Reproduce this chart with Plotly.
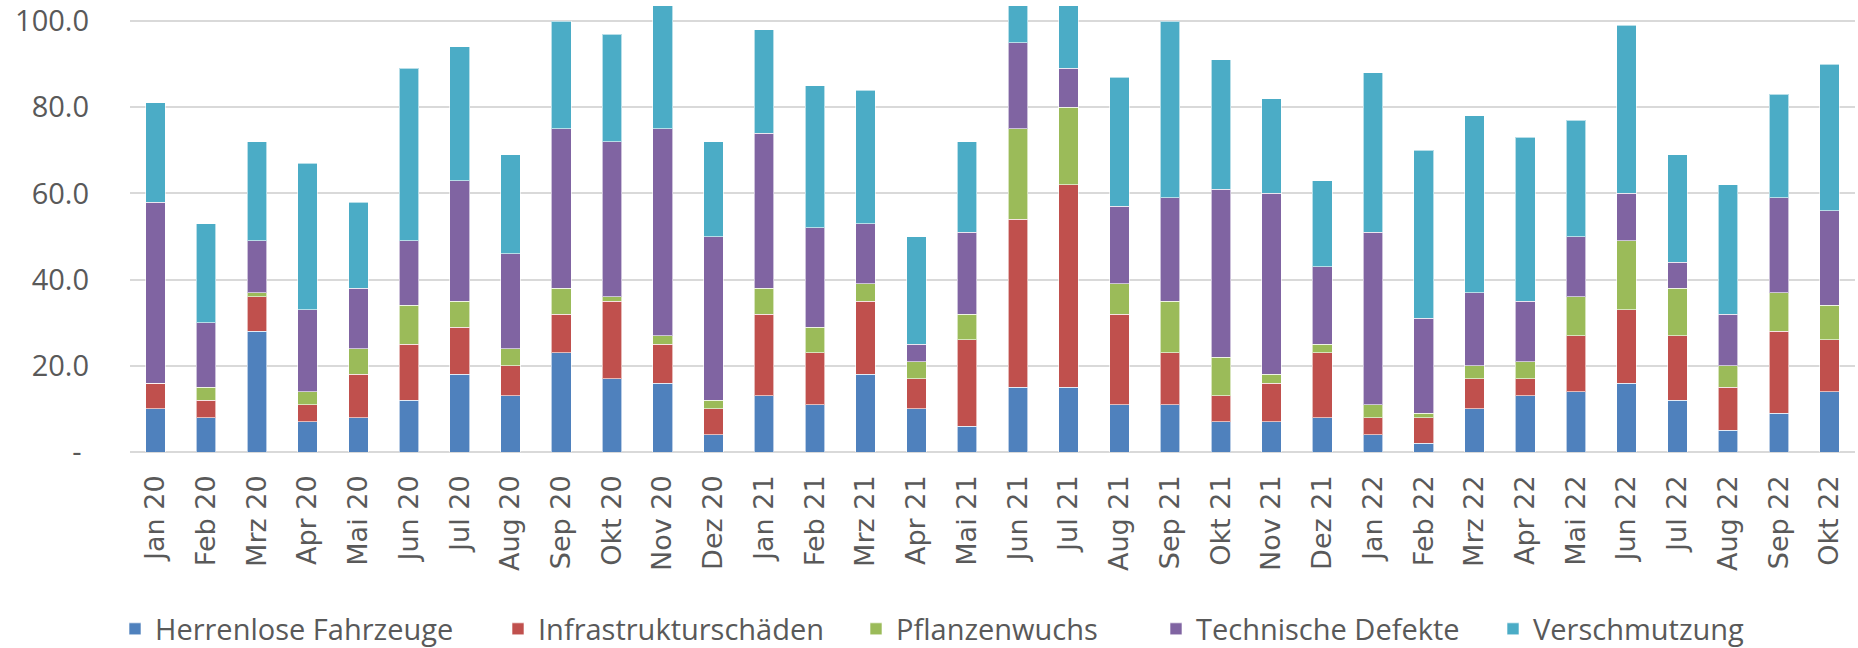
import plotly.graph_objects as go

months = ["Jan 20", "Feb 20", "Mrz 20", "Apr 20", "Mai 20", "Jun 20", "Jul 20", "Aug 20",
          "Sep 20", "Okt 20", "Nov 20", "Dez 20",
          "Jan 21", "Feb 21", "Mrz 21", "Apr 21", "Mai 21", "Jun 21", "Jul 21", "Aug 21",
          "Sep 21", "Okt 21", "Nov 21", "Dez 21",
          "Jan 22", "Feb 22", "Mrz 22", "Apr 22", "Mai 22", "Jun 22", "Jul 22", "Aug 22",
          "Sep 22", "Okt 22"]

herrenlose = [10, 8, 28, 7, 8, 12, 18, 13, 23, 17, 16, 4,
              13, 11, 18, 10, 6, 15, 15, 11, 11, 7, 7, 8,
              4, 2, 10, 13, 14, 16, 12, 5, 9, 14]
infrastruktur = [6, 4, 8, 4, 10, 13, 11, 7, 9, 18, 9, 6,
                 19, 12, 17, 7, 20, 39, 47, 21, 12, 6, 9, 15,
                 4, 6, 7, 4, 13, 17, 15, 10, 19, 12]
pflanzen = [0, 3, 1, 3, 6, 9, 6, 4, 6, 1, 2, 2,
            6, 6, 4, 4, 6, 21, 18, 7, 12, 9, 2, 2,
            3, 1, 3, 4, 9, 16, 11, 5, 9, 8]
technisch = [42, 15, 12, 19, 14, 15, 28, 22, 37, 36, 48, 38,
             36, 23, 14, 4, 19, 20, 9, 18, 24, 39, 42, 18,
             40, 22, 17, 14, 14, 11, 6, 12, 22, 22]
verschmutzung = [23, 23, 23, 34, 20, 40, 31, 23, 25, 25, 29, 22,
                 24, 33, 31, 25, 21, 9, 15, 30, 41, 30, 22, 20,
                 37, 39, 41, 38, 27, 39, 25, 30, 24, 34]

series_names = ["Herrenlose Fahrzeuge", "Infrastrukturschäden", "Pflanzenwuchs",
                "Technische Defekte", "Verschmutzung"]
series_values = [herrenlose, infrastruktur, pflanzen, technisch, verschmutzung]
colors = ["#4F81BD", "#C0504D", "#9BBB59", "#8064A2", "#4BACC6"]

y_tickvals = [0, 20, 40, 60, 80, 100]
y_ticktext = ["-\u00a0", "20.0", "40.0", "60.0", "80.0", "100.0"]

W, H = 1858, 648
legend_px = [115, 498, 856, 1156, 1493]
legend_keys = ["legend", "legend2", "legend3", "legend4", "legend5"]

fig = go.Figure()
for name, vals, col, lk in zip(series_names, series_values, colors, legend_keys):
    fig.add_trace(go.Bar(
        x=months, y=vals, name=name,
        marker=dict(color=col, line=dict(width=1, color="rgba(255,255,255,0.6)")),
        legend=lk,
    ))

legend_font = dict(family="Open Sans, sans-serif", size=29, color="#595959")
layout_legends = {}
for lk, px in zip(legend_keys, legend_px):
    layout_legends[lk] = dict(
        orientation="h", xref="container", yref="container",
        x=px / W, xanchor="left", y=1 - 629 / H, yanchor="middle",
        font=legend_font, bgcolor="rgba(0,0,0,0)", borderwidth=0,
    )

fig.update_layout(
    template="none",
    width=W, height=H,
    barmode="stack", bargap=0.614,
    plot_bgcolor="white", paper_bgcolor="white",
    margin=dict(l=130, r=3, t=6, b=196, autoexpand=False),
    showlegend=True,
    **layout_legends,
)

fig.update_xaxes(
    type="category", tickangle=-90, automargin=False,
    tickfont=dict(family="DejaVu Sans, sans-serif", size=27, color="#595959"),
    showgrid=False, showline=False, ticks="", zeroline=False,
    ticklabelstandoff=17,
)
fig.update_yaxes(
    range=[0, 103.5], tickvals=y_tickvals, ticktext=y_ticktext, automargin=False,
    tickfont=dict(family="Open Sans, sans-serif", size=29, color="#595959"),
    showgrid=True, gridcolor="#D9D9D9", gridwidth=2,
    zeroline=True, zerolinecolor="#D9D9D9", zerolinewidth=2,
    showline=False, ticks="", ticklabelstandoff=40,
)

fig.write_html(
    "out.html",
    config={"displayModeBar": False},
    post_script="document.body.style.margin='0';document.body.style.overflow='hidden';",
)
